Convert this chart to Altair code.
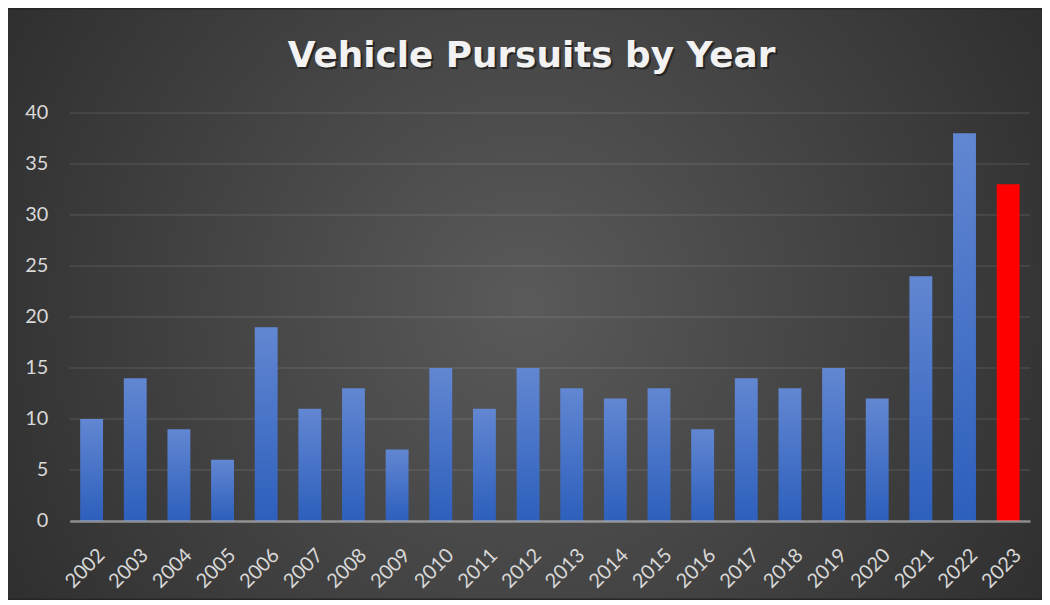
import altair as alt
import pandas as pd

years = ["2002", "2003", "2004", "2005", "2006", "2007", "2008", "2009", "2010", "2011",
         "2012", "2013", "2014", "2015", "2016", "2017", "2018", "2019", "2020", "2021",
         "2022", "2023"]
values = [10, 14, 9, 6, 19, 11, 13, 7, 15, 11, 15, 13, 12, 13, 9, 14, 13, 15, 12, 24, 38, 33]
highlight = "2023"
y_ticks = [0, 5, 10, 15, 20, 25, 30, 35, 40]
title_text = "Vehicle Pursuits by Year"

W, H = 965, 410
PL, PT, PR, PB = 62, 104, 12, 78

df = pd.DataFrame({"year": years, "value": values})
bg_df = pd.DataFrame({"k": [0]})
grid_df = pd.DataFrame({"value": [t for t in y_ticks if t > 0]})
title_df = pd.DataFrame({"title": [title_text]})

x_enc = alt.X("year:N", sort=years,
              scale=alt.Scale(paddingInner=0.476, paddingOuter=0.24),
              axis=alt.Axis(title=None, labelAngle=-45, labelAlign="right",
                            labelBaseline="top", labelPadding=24, labelOffset=3,
                            ticks=False, domain=True, domainColor="#c8c8c8",
                            domainOpacity=0.6, domainWidth=2.5, labelColor="#d9d9d9",
                            labelFontSize=20, labelFont="Lato", grid=False, zindex=2))
y_scale = alt.Scale(domain=[0, 40], nice=False)
y_axis = alt.Axis(title=None, values=y_ticks, ticks=False, domain=False,
                  grid=False, labelPadding=22, labelColor="#d9d9d9",
                  labelFontSize=20, labelFont="Lato", zindex=2)
y_enc = alt.Y("value:Q", scale=y_scale, axis=y_axis)

background = alt.Chart(bg_df).mark_rect(
    fill={"gradient": "radial", "x1": 0.5, "y1": 0.5, "r1": 0,
          "x2": 0.5, "y2": 0.5, "r2": 0.75,
          "stops": [{"offset": 0, "color": "#5a5a5a"},
                    {"offset": 1, "color": "#222222"}]}
).encode(x=alt.value(-PL), x2=alt.value(W + PR), y=alt.value(-PT), y2=alt.value(H + PB))

grid = alt.Chart(grid_df).mark_rule(color="#ffffff", opacity=0.1, strokeWidth=1.5).encode(
    y=y_enc,
    x=alt.value(0), x2=alt.value(W)
)

blue = alt.Chart(df).transform_filter(alt.datum.year != highlight).mark_bar(
    fill={"gradient": "linear", "x1": 0, "y1": 0, "x2": 0, "y2": 1,
          "stops": [{"offset": 0, "color": "#6287d2"},
                    {"offset": 1, "color": "#2d5fbc"}]}
).encode(x=x_enc, y=y_enc)

red = alt.Chart(df).transform_filter(alt.datum.year == highlight).mark_bar(
    fill="#ff0000"
).encode(x=x_enc, y=y_enc)

title_shadow = alt.Chart(title_df).mark_text(
    font="DejaVu Sans", fontWeight="bold", fontSize=36, color="#000000", opacity=0.45,
    align="center", baseline="middle"
).encode(text="title:N", x=alt.value(464 + 2), y=alt.value(-57 + 2))

title = alt.Chart(title_df).mark_text(
    font="DejaVu Sans", fontWeight="bold", fontSize=36, color="#f2f2f2",
    align="center", baseline="middle"
).encode(text="title:N", x=alt.value(464), y=alt.value(-57))

chart = alt.layer(background, grid, blue, red, title_shadow, title).properties(
    width=W, height=H,
    autosize=alt.AutoSizeParams(type="none"),
    padding={"left": PL, "top": PT, "right": PR, "bottom": PB},
    background="#262626"
).configure_view(stroke=None)

chart.save("out.html", embed_options={"renderer": "svg", "actions": False})
